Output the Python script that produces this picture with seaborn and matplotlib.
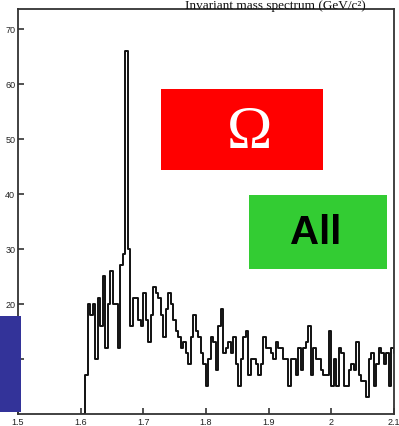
import numpy as np
import pandas as pd
import matplotlib
matplotlib.use("Agg")
import matplotlib.pyplot as plt
from matplotlib.patches import Rectangle
import seaborn as sns

# ---- data ----
bin_start = 1.6035
bin_width = 0.004
counts = [0, 7, 20, 18, 20, 10, 21, 16, 25, 12,
          20, 26, 20, 20, 12, 27, 29, 66, 30, 16,
          21, 21, 17, 16, 22, 17, 13, 18, 23, 22,
          21, 18, 14, 19, 22, 20, 17, 15, 14, 12,
          13, 11, 9, 14, 18, 15, 14, 11, 9, 5,
          10, 14, 13, 8, 16, 19, 11, 12, 13, 11,
          14, 9, 5, 10, 14, 15, 7, 10, 10, 9,
          7, 9, 14, 12, 12, 11, 10, 13, 12, 12,
          10, 10, 5, 10, 10, 7, 12, 8, 12, 13,
          16, 7, 12, 10, 10, 8, 7, 7, 15, 5,
          10, 5, 12, 11, 5, 5, 8, 9, 8, 13,
          7, 6, 6, 3, 10, 11, 5, 9, 12, 11,
          9, 11, 5, 12, 11]
x_ticks = [1.5, 1.6, 1.7, 1.8, 1.9, 2.0, 2.1]
x_tick_labels = ["1.5", "1.6", "1.7", "1.8", "1.9", "2", "2.1"]
y_ticks = [10, 20, 30, 40, 50, 60, 70]
y_tick_labels = ["10", "20", "30", "40", "50", "60", "70"]
omega_label = "Ω"
all_label = "All"
top_text = "Invariant mass spectrum (GeV/c²)"

edges = bin_start + bin_width * np.arange(len(counts) + 1)
centers = (edges[:-1] + edges[1:]) / 2
df = pd.DataFrame({"mass": centers, "count": counts})

W, H = 399, 427
sns.set_style("white")
plt.rcParams['font.family'] = ['Liberation Sans', 'DejaVu Sans']
fig = plt.figure(figsize=(W / 100, H / 100), dpi=100)
ax = fig.add_axes([18 / W, (H - 415) / H, 376 / W, 405 / H])

sns.histplot(data=df, x="mass", weights="count", bins=edges.tolist(),
             element="step", fill=False, color="#111111", linewidth=1.4, ax=ax)

ax.set_xlim(1.5, 2.1)
ax.set_ylim(0, 73.6)
ax.set_xticks(x_ticks)
ax.set_xticklabels(x_tick_labels)
ax.set_yticks(y_ticks)
ax.set_yticklabels(y_tick_labels)
ax.set_xlabel("")
ax.set_ylabel("")
ax.tick_params(direction="in", length=4, width=1.1, color="#222222",
               labelsize=6.5, labelcolor="#222222", pad=2,
               bottom=True, left=True)
for sp in ax.spines.values():
    sp.set_visible(True)
    sp.set_color("#333333")
    sp.set_linewidth(1.3)
ax.grid(False)

def px_rect(x0, y0, x1, y1, color):
    r = Rectangle((x0 / W, 1 - y1 / H), (x1 - x0) / W, (y1 - y0) / H,
                  transform=fig.transFigure, facecolor=color, edgecolor="none",
                  zorder=10)
    fig.add_artist(r)

px_rect(161, 90, 323, 171, "#ff0000")
px_rect(249, 196, 387, 270, "#33cc33")
px_rect(0, 317, 21, 413, "#333399")

fig.text(250 / W, 1 - 133 / H, omega_label, color="white", fontsize=44,
         family=["Liberation Serif", "DejaVu Serif"], ha="center", va="center",
         zorder=11)
fig.text(316 / W, 1 - 233 / H, all_label, color="black", fontsize=29,
         fontweight="bold", ha="center", va="center", zorder=11)
fig.text(275 / W, 1 - 0.5 / H, top_text, color="#111111", fontsize=9.5,
         family=["Liberation Serif", "DejaVu Serif"], ha="center", va="top",
         zorder=11)

fig.savefig("out.png", dpi=100)
